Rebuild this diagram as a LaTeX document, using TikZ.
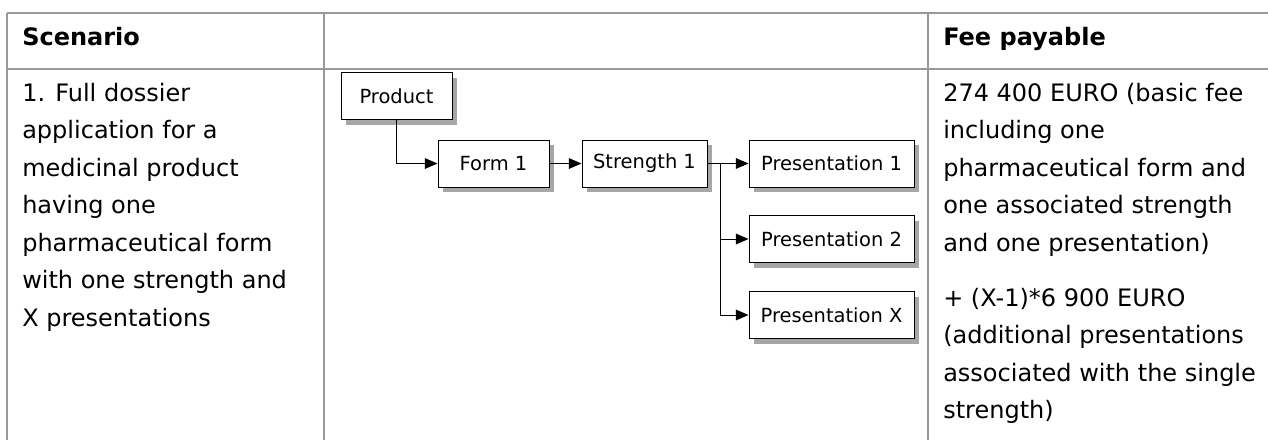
\documentclass[tikz,border=0pt]{standalone}
\usepackage{fontspec}
\setmainfont{DejaVu Sans}
\usetikzlibrary{arrows.meta,shadows}

\begin{document}
\begin{tikzpicture}[x=0.75pt, y=-0.75pt,
    rule/.style={draw=black!40, line width=1.4pt},
    celltext/.style={anchor=base west, inner sep=0pt, font=\fontsize{18}{22}\selectfont},
    headtext/.style={celltext, font=\fontsize{18}{22}\selectfont\bfseries},
    flowbox/.style={draw, fill=white, line width=0.75pt, inner sep=0pt,
        minimum height=35.25pt, font=\fontsize{14.6}{17}\selectfont,
        drop shadow={shadow xshift=3.75pt, shadow yshift=-3.75pt, fill=black!35, opacity=1}},
    link/.style={line width=0.75pt, -{Triangle[length=9.5pt,width=8pt]}}]
    \useasboundingbox (0,0) rectangle (1268,440);

    % table
    \draw[rule] (7,12.7) -- (1268,12.7);
    \draw[rule] (7,69) -- (1268,69);
    \foreach \x in {7,324,928}
        \draw[rule] (\x,12.7) -- (\x,440);

    \node[headtext] (scenhead) at (22,45) {Scenario};
    \node[headtext] (feehead) at (943,45) {Fee payable};

    \foreach \txt [count=\i from 0] in {{1. Full dossier},{application for a},{medicinal product},
        {having one},{pharmaceutical form},{with one strength and},{X presentations}}
        \node[celltext] (scen\i) at (22,101+37.5*\i) {\txt};

    \foreach \txt [count=\i from 0] in {{274 400 EURO (basic fee},{including one},
        {pharmaceutical form and},{one associated strength},{and one presentation)}}
        \node[celltext] (fee\i) at (943,101+37.5*\i) {\txt};
    \foreach \txt [count=\i from 0] in {{+ (X-1)*6 900 EURO},{(additional presentations},
        {associated with the single},{strength)}}
        \node[celltext] (extra\i) at (943,306+37.5*\i) {\txt};

    % flow chart
    \node[flowbox, minimum width=83.25pt] (prod) at (396.5,96) {Product};
    \node[flowbox, minimum width=83.25pt] (form) at (493.5,163.5) {Form 1};
    \node[flowbox, minimum width=93.75pt] (str) at (644.5,163.5) {Strength 1};
    \node[flowbox, minimum width=123.75pt] (pres1) at (831.5,163.5) {Presentation 1};
    \node[flowbox, minimum width=123.75pt] (pres2) at (831.5,239) {Presentation 2};
    \node[flowbox, minimum width=123.75pt] (presX) at (831.5,315) {Presentation X};
    \coordinate (split) at (720,163.5);

    \draw[link] (prod.south) |- (form.west);
    \draw[link] (form.east) -- (str.west);
    \draw[line width=0.75pt] (str.east) -- (split);
    \draw[link] (split) -- (pres1.west);
    \draw[link] (split) |- (pres2.west);
    \draw[link] (split) |- (presX.west);
\end{tikzpicture}
\end{document}
